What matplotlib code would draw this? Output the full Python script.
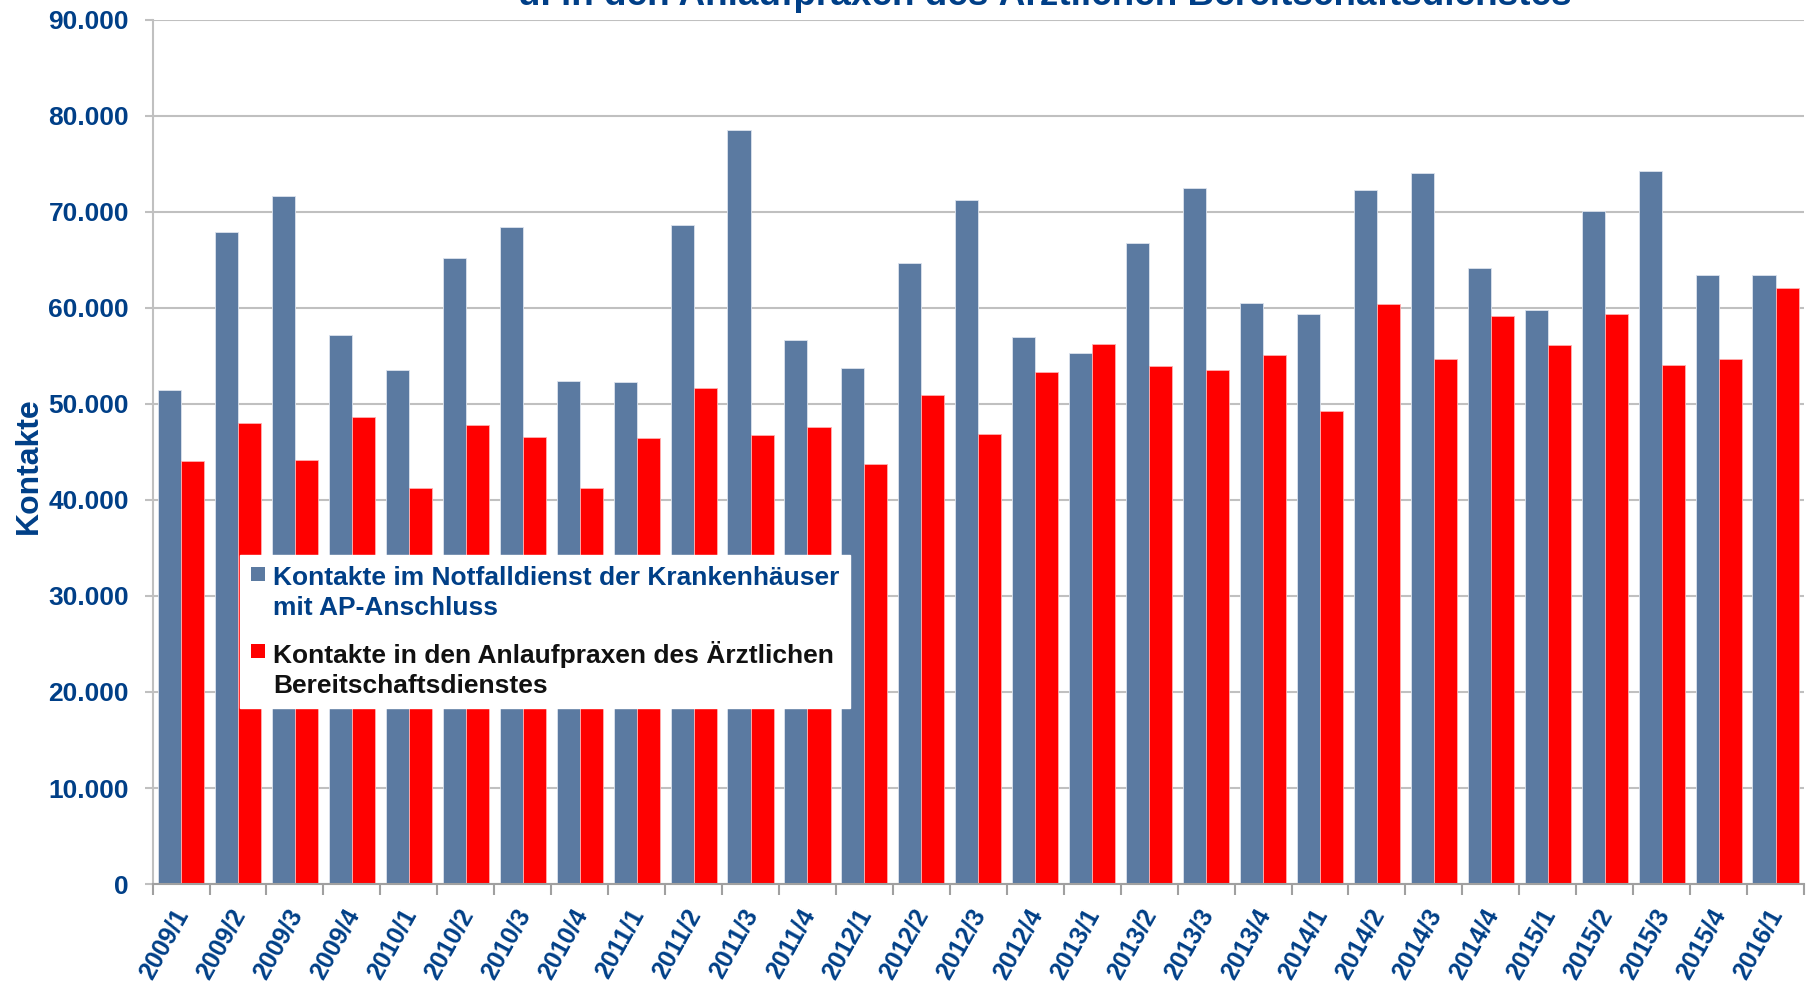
import matplotlib
matplotlib.use('Agg')
import matplotlib.pyplot as plt
import matplotlib.transforms as mtransforms
from matplotlib.patches import Rectangle
from matplotlib.legend_handler import HandlerBase
from matplotlib.ticker import FuncFormatter, MultipleLocator

plt.rcParams['font.family'] = ['Liberation Sans', 'DejaVu Sans']

quarters = ['2009/1', '2009/2', '2009/3', '2009/4',
            '2010/1', '2010/2', '2010/3', '2010/4',
            '2011/1', '2011/2', '2011/3', '2011/4',
            '2012/1', '2012/2', '2012/3', '2012/4',
            '2013/1', '2013/2', '2013/3', '2013/4',
            '2014/1', '2014/2', '2014/3', '2014/4',
            '2015/1', '2015/2', '2015/3', '2015/4',
            '2016/1']

# Kontakte im Notfalldienst der Krankenhaeuser mit AP-Anschluss
krankenhaus = [51400, 67900, 71600, 57200,
               53500, 65200, 68400, 52400,
               52300, 68650, 78500, 56700,
               53700, 64700, 71200, 57000,
               55300, 66700, 72500, 60500,
               59350, 72300, 74000, 64100,
               59800, 70100, 74200, 63400,
               63400]

# Kontakte in den Anlaufpraxen
anlaufpraxen = [44050, 48000, 44150, 48600,
                41200, 47800, 46500, 41200,
                46450, 51650, 46800, 47600,
                43700, 50900, 46900, 53350,
                56200, 53900, 53500, 55100,
                49300, 60400, 54700, 59150,
                56100, 59400, 54000, 54700,
                62100]

label_blue = 'Kontakte im Notfalldienst der Krankenhäuser\nmit AP-Anschluss'
label_red = 'Kontakte in den Anlaufpraxen des Ärztlichen\nBereitschaftsdienstes'

dark_blue = '#003F87'
bar_blue = '#5B7AA1'
bar_red = '#FF0000'
grid_grey = '#C0C0C0'


class TopSquare(HandlerBase):
    # square marker aligned with the first line of a two-line label
    def create_artists(self, legend, orig_handle, xdescent, ydescent,
                       width, height, fontsize, trans):
        size = 0.53 * fontsize
        shift = 0.8 * fontsize
        r = Rectangle((-xdescent, shift), size, size,
                      facecolor=orig_handle.patches[0].get_facecolor(),
                      edgecolor='none', transform=trans)
        return [r]


fig = plt.figure(figsize=(18.12, 9.85), dpi=100)
ax = fig.add_axes([0.0842, 0.1025, 0.9956 - 0.0842, 0.98 - 0.1025])

x = list(range(len(quarters)))
w = 0.405
b1 = ax.bar([i - w / 2 for i in x], krankenhaus, width=w, color=bar_blue,
            edgecolor='#DCE3EE', linewidth=0.6, label=label_blue)
b2 = ax.bar([i + w / 2 for i in x], anlaufpraxen, width=w, color=bar_red,
            edgecolor='#FFB0B0', linewidth=0.6, label=label_red)

ax.set_xlim(-0.5, len(quarters) - 0.5)
ax.set_ylim(0, 90000)
ax.yaxis.set_major_locator(MultipleLocator(10000))
ax.yaxis.set_major_formatter(FuncFormatter(lambda v, p: f'{int(v):,}'.replace(',', '.')))
ax.set_axisbelow(True)
ax.grid(axis='y', color=grid_grey, linewidth=1.5)

for side in ['top', 'right']:
    ax.spines[side].set_visible(False)
ax.spines['left'].set_color(grid_grey)
ax.spines['left'].set_linewidth(1.5)
ax.spines['bottom'].set_color('#A0A0A0')
ax.spines['bottom'].set_linewidth(1.5)

ax.set_xticks(x)
ax.set_xticklabels(quarters, rotation=61, ha='center')
ax.set_xticks([i - 0.5 for i in range(len(quarters) + 1)], minor=True)
ax.tick_params(axis='x', which='major', length=0, pad=15, labelsize=18,
               labelcolor=dark_blue)
ax.tick_params(axis='x', which='minor', length=8, width=1.5, color='#A0A0A0')
ax.tick_params(axis='y', length=6, width=1.5, color=grid_grey, pad=11,
               labelsize=19, labelcolor=dark_blue)
shift_left = mtransforms.ScaledTranslation(-17 / 100, 0, fig.dpi_scale_trans)
for lab in ax.get_xticklabels():
    lab.set_fontweight('bold')
    lab.set_transform(lab.get_transform() + shift_left)
for lab in ax.get_yticklabels():
    lab.set_fontweight('bold')

ax.set_ylabel('Kontakte', fontsize=23, fontweight='bold', color=dark_blue)
ax.yaxis.set_label_coords(-0.0657, 0.4836)

leg = ax.legend(handles=[b1, b2], loc='upper left', bbox_to_anchor=(0.053, 0.3807),
                borderaxespad=0, frameon=True, fancybox=False, framealpha=1,
                facecolor='white', edgecolor='white', borderpad=0.4,
                handlelength=0.55, handletextpad=0.3, labelspacing=0.8,
                prop={'size': 19, 'weight': 'bold'},
                handler_map={b1: TopSquare(), b2: TopSquare()})
for t in leg.get_texts():
    t.set_linespacing(1.32)
leg.get_texts()[0].set_color(dark_blue)
leg.get_texts()[1].set_color('#111111')

fig.text(0.5767, 1 - 5 / 985, 'u. in den Anlaufpraxen des Ärztlichen Bereitschaftsdienstes',
         ha='center', va='baseline', fontsize=26.6, fontweight='bold', color=dark_blue)

fig.savefig('out.png', dpi=100)
